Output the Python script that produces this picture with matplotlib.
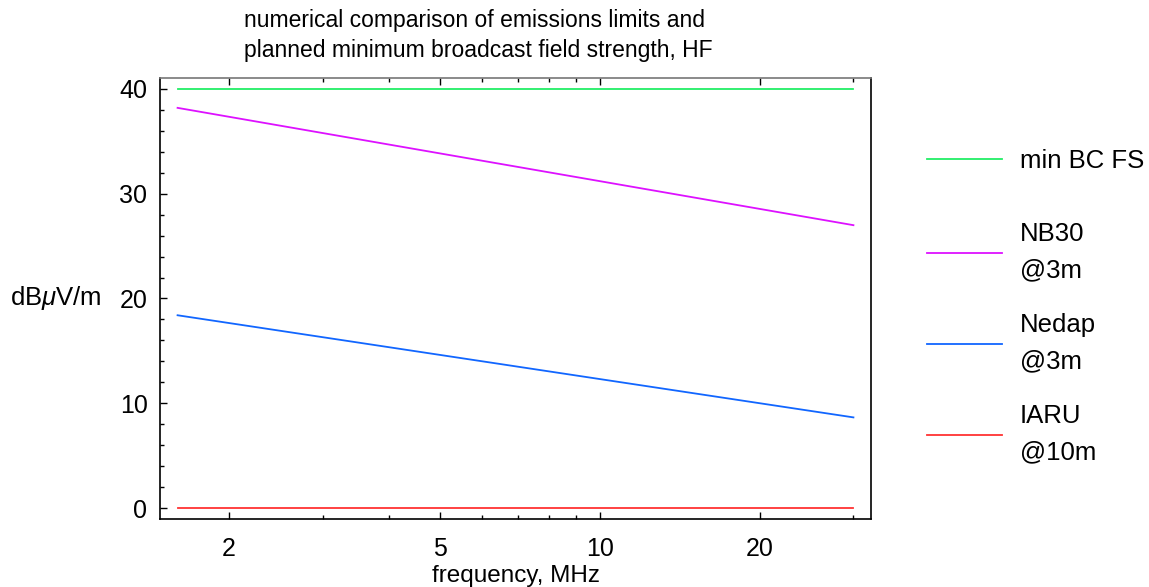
import numpy as np
import matplotlib
matplotlib.use("Agg")
import matplotlib.pyplot as plt
from matplotlib.ticker import FixedLocator, NullFormatter

plt.rcParams['font.family'] = ['Liberation Sans', 'DejaVu Sans']
plt.rcParams['mathtext.fontset'] = 'custom'
plt.rcParams['mathtext.it'] = 'Liberation Sans:italic'
plt.rcParams['mathtext.rm'] = 'Liberation Sans'

# frequency in MHz (endpoints of each limit line)
freq = [1.6, 30]
min_bc_fs = [40, 40]
nb30 = [38.2, 27.0]
nedap = [18.4, 8.65]
iaru = [0, 0]

labels = ["min BC FS", "NB30\n@3m", "Nedap\n@3m", "IARU\n@10m"]
colors = ["#22ee66", "#dd11ff", "#1166ff", "#ff3333"]

xmajor = [2, 5, 10, 20]
xminor = [3, 4, 6, 7, 8, 9, 30]

fig = plt.figure(figsize=(11.49, 5.87), dpi=100)
ax = fig.add_axes([160/1149, 1-519/587, 711/1149, 441/587])

series = [min_bc_fs, nb30, nedap, iaru]
handles = []
for vals, c in zip(series, colors):
    h, = ax.plot(freq, vals, color=c, lw=1.3)
    handles.append(h)

ax.set_xscale('log')
lo, hi = np.log10(freq[0]), np.log10(freq[-1])
pad = (hi - lo) * 0.026
ax.set_xlim(10**(lo - pad), 10**(hi + pad))
ax.set_ylim(-1.05, 41.05)

ax.xaxis.set_major_locator(FixedLocator(xmajor))
ax.xaxis.set_minor_locator(FixedLocator(xminor))
ax.xaxis.set_minor_formatter(NullFormatter())
ax.set_xticklabels([str(v) for v in xmajor])
ax.set_yticks([0, 10, 20, 30, 40])
ax.set_yticks(np.arange(0, 41, 2), minor=True)

ax.tick_params(which='both', direction='in', top=True, right=False, labelsize=18)
ax.tick_params(axis='x', which='major', pad=13)
ax.tick_params(axis='y', which='major', pad=9)
ax.tick_params(which='major', length=5, width=1)
ax.tick_params(which='minor', length=3, width=1)
ax.spines['top'].set_color('#777777')
for s in ['left', 'bottom', 'right']:
    ax.spines[s].set_color('black')
for s in ax.spines.values():
    s.set_linewidth(1.2)

fig.text(244/1149, 1 - 9/587,
         "numerical comparison of emissions limits and\nplanned minimum broadcast field strength, HF",
         fontsize=16.5, ha='left', va='top', linespacing=1.4)
ax.set_xlabel("frequency, MHz", fontsize=17.5, labelpad=3)
ax.set_ylabel(r"dB$\mu$V/m", fontsize=18.5, rotation=0, ha='right', va='center')
ax.yaxis.set_label_coords(-0.082, 0.5)

ycent = [161, 252, 343, 434]
for h, lab, yc in zip(handles, labels, ycent):
    leg = fig.legend([h], [lab], loc='center left', bbox_to_anchor=(927/1149, 1 - yc/587),
                     frameon=False, fontsize=18.5, borderpad=0, borderaxespad=0,
                     handlelength=2.92, handletextpad=0.7)
    for t in leg.get_texts():
        t.set_linespacing(1.65)

fig.savefig("out.png", dpi=100)
